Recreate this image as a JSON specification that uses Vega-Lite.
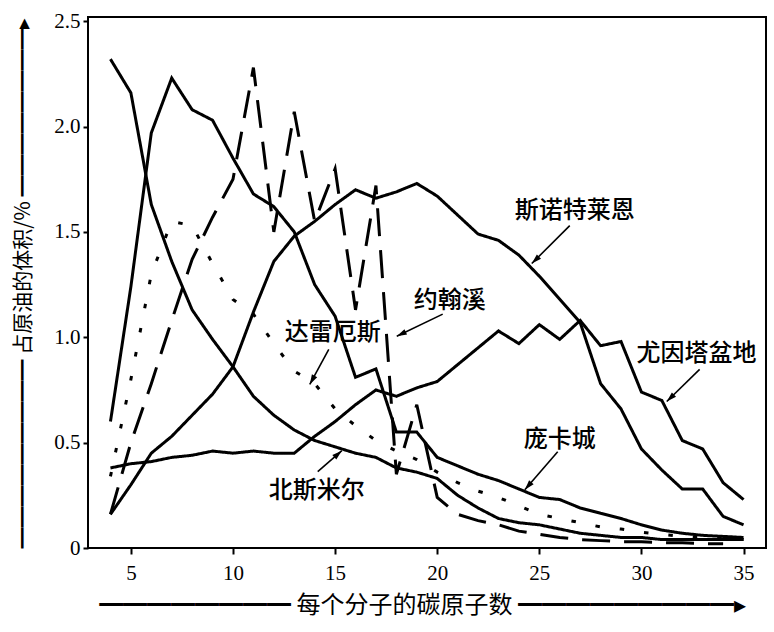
{
  "$schema": "https://vega.github.io/schema/vega-lite/v6.json",
  "width": 678,
  "height": 531,
  "autosize": {"type": "none"},
  "padding": {"left": 88, "top": 17, "right": 8, "bottom": 84},
  "background": "white",
  "config": {
    "view": {"stroke": "black", "strokeWidth": 2},
    "axis": {
      "domain": false, "grid": false, "tickColor": "black", "tickWidth": 2,
      "labelColor": "black", "labelFont": "DejaVu Serif",
      "titleFont": "Noto Sans CJK SC", "titleFontWeight": "normal", "titleColor": "black"
    }
  },
  "datasets": {
    "curves": [
      {"c":4,"ns":2.32,"pc":0.60,"sn":0.16,"ub":0.38,"da":0.34,"jc":0.16},
      {"c":5,"ns":2.16,"pc":1.24,"sn":0.30,"ub":0.40,"da":0.80,"jc":0.50},
      {"c":6,"ns":1.63,"pc":1.97,"sn":0.45,"ub":0.41,"da":1.30,"jc":0.78},
      {"c":7,"ns":1.36,"pc":2.23,"sn":0.53,"ub":0.43,"da":1.55,"jc":1.08},
      {"c":8,"ns":1.13,"pc":2.08,"sn":0.63,"ub":0.44,"da":1.53,"jc":1.37},
      {"c":9,"ns":0.99,"pc":2.03,"sn":0.73,"ub":0.46,"da":1.35,"jc":1.57},
      {"c":10,"ns":0.86,"pc":1.85,"sn":0.86,"ub":0.45,"da":1.18,"jc":1.75},
      {"c":11,"ns":0.72,"pc":1.68,"sn":1.12,"ub":0.46,"da":1.11,"jc":2.28},
      {"c":12,"ns":0.63,"pc":1.62,"sn":1.36,"ub":0.45,"da":0.97,"jc":1.50},
      {"c":13,"ns":0.56,"pc":1.50,"sn":1.48,"ub":0.45,"da":0.84,"jc":2.07},
      {"c":14,"ns":0.51,"pc":1.25,"sn":1.55,"ub":0.53,"da":0.78,"jc":1.55},
      {"c":15,"ns":0.48,"pc":1.10,"sn":1.63,"ub":0.60,"da":0.66,"jc":1.80},
      {"c":16,"ns":0.45,"pc":0.81,"sn":1.70,"ub":0.68,"da":0.58,"jc":1.13},
      {"c":17,"ns":0.43,"pc":0.85,"sn":1.66,"ub":0.75,"da":0.51,"jc":1.72},
      {"c":18,"ns":0.38,"pc":0.55,"sn":1.69,"ub":0.72,"da":0.46,"jc":0.35},
      {"c":19,"ns":0.36,"pc":0.55,"sn":1.73,"ub":0.76,"da":0.42,"jc":0.68},
      {"c":20,"ns":0.33,"pc":0.43,"sn":1.67,"ub":0.79,"da":0.36,"jc":0.24},
      {"c":21,"ns":0.25,"pc":0.39,"sn":1.58,"ub":0.87,"da":0.31,"jc":0.16},
      {"c":22,"ns":0.19,"pc":0.35,"sn":1.49,"ub":0.95,"da":0.27,"jc":0.13},
      {"c":23,"ns":0.14,"pc":0.32,"sn":1.46,"ub":1.03,"da":0.24,"jc":0.11},
      {"c":24,"ns":0.12,"pc":0.28,"sn":1.39,"ub":0.97,"da":0.20,"jc":0.08},
      {"c":25,"ns":0.11,"pc":0.24,"sn":1.29,"ub":1.06,"da":0.16,"jc":0.065},
      {"c":26,"ns":0.09,"pc":0.23,"sn":1.18,"ub":0.99,"da":0.14,"jc":0.05},
      {"c":27,"ns":0.07,"pc":0.19,"sn":1.07,"ub":1.08,"da":0.12,"jc":0.04},
      {"c":28,"ns":0.06,"pc":0.165,"sn":0.78,"ub":0.96,"da":0.10,"jc":0.035},
      {"c":29,"ns":0.05,"pc":0.14,"sn":0.66,"ub":0.98,"da":0.09,"jc":0.03},
      {"c":30,"ns":0.05,"pc":0.11,"sn":0.47,"ub":0.74,"da":0.075,"jc":0.03},
      {"c":31,"ns":0.04,"pc":0.085,"sn":0.37,"ub":0.70,"da":0.065,"jc":0.025},
      {"c":32,"ns":0.04,"pc":0.07,"sn":0.28,"ub":0.51,"da":0.055,"jc":0.025},
      {"c":33,"ns":0.04,"pc":0.06,"sn":0.28,"ub":0.47,"da":0.05,"jc":0.02},
      {"c":34,"ns":0.04,"pc":0.055,"sn":0.15,"ub":0.31,"da":0.045,"jc":0.02},
      {"c":35,"ns":0.04,"pc":0.05,"sn":0.11,"ub":0.23,"da":0.04}
    ],
    "notes": [
      {"label":"斯诺特莱恩","lx":26.73,"ly":1.60,"ax":26.49,"ay":1.53,"tx":24.63,"ty":1.35,"ang":226},
      {"label":"约翰溪","lx":20.61,"ly":1.17,"ax":20.27,"ay":1.11,"tx":18.02,"ty":1.005,"ang":244},
      {"label":"达雷厄斯","lx":14.89,"ly":1.02,"ax":14.69,"ay":0.943,"tx":13.76,"ty":0.776,"ang":208.5},
      {"label":"北斯米尔","lx":14.1,"ly":0.27,"ax":14.15,"ay":0.362,"tx":15.33,"ty":0.462,"ang":48.8},
      {"label":"庞卡城","lx":26.0,"ly":0.514,"ax":25.9,"ay":0.457,"tx":24.29,"ty":0.276,"ang":221},
      {"label":"尤因塔盆地","lx":32.7,"ly":0.92,"ax":32.85,"ay":0.848,"tx":31.24,"ty":0.695,"ang":226}
    ]
  },
  "resolve": {"scale": {"x": "shared", "y": "shared"}},
  "layer": [
    {
      "data": {"name": "curves"},
      "transform": [
        {"fold": ["ns", "pc", "sn", "ub", "da", "jc"], "as": ["oil", "v"]},
        {"filter": "isValid(datum.v)"}
      ],
      "mark": {"type": "line", "color": "black", "strokeWidth": 3, "strokeCap": "butt"},
      "encoding": {
        "x": {
          "field": "c", "type": "quantitative",
          "scale": {"domain": [2.9, 36.1], "nice": false, "zero": false},
          "axis": {
            "values": [5, 10, 15, 20, 25, 30, 35], "tickSize": 6, "labelPadding": 8,
            "labelFont": "Liberation Serif", "labelFontSize": 21,
            "title": "━━━━━━━━  每个分子的碳原子数  ━━━━━━━━━▸",
            "titleFontSize": 24, "titlePadding": 10, "titleX": 334
          }
        },
        "y": {
          "field": "v", "type": "quantitative",
          "scale": {"domain": [0, 2.52], "nice": false},
          "axis": {
            "values": [0, 0.5, 1, 1.5, 2, 2.5], "tickSize": 5, "labelPadding": 3,
            "labelFont": "Liberation Serif", "labelFontSize": 21,
            "labelExpr": "datum.value == 0 ? '0' : format(datum.value, '.1f')",
            "title": "━━━━━━━━━  占原油的体积/%  ━━━━━━━━▸",
            "titleFontSize": 21, "titlePadding": 20
          }
        },
        "strokeDash": {
          "field": "oil", "type": "nominal",
          "scale": {
            "domain": ["ns", "pc", "sn", "ub", "da", "jc"],
            "range": [[1, 0], [1, 0], [1, 0], [1, 0], [4.5, 20], [28, 14]]
          },
          "legend": null
        }
      }
    },
    {
      "data": {"name": "notes"},
      "mark": {"type": "rule", "color": "black", "strokeWidth": 1.6},
      "encoding": {
        "x": {"field": "ax", "type": "quantitative", "axis": {"labelFont": "Liberation Serif"}},
        "y": {"field": "ay", "type": "quantitative", "axis": {"labelFont": "Liberation Serif"}},
        "x2": {"field": "tx"},
        "y2": {"field": "ty"}
      }
    },
    {
      "data": {"name": "notes"},
      "mark": {"type": "point", "shape": "M0,0L0.6,2L-0.6,2Z", "filled": true, "color": "black", "opacity": 1, "size": 100},
      "encoding": {
        "x": {"field": "tx", "type": "quantitative", "axis": {"labelFont": "Liberation Serif"}},
        "y": {"field": "ty", "type": "quantitative", "axis": {"labelFont": "Liberation Serif"}},
        "angle": {"field": "ang", "type": "quantitative", "scale": null}
      }
    },
    {
      "data": {"name": "notes"},
      "mark": {"type": "text", "font": "Noto Sans CJK SC", "fontSize": 24, "fontWeight": 500, "color": "black", "align": "center", "baseline": "middle"},
      "encoding": {
        "x": {"field": "lx", "type": "quantitative", "axis": {"labelFont": "Liberation Serif"}},
        "y": {"field": "ly", "type": "quantitative", "axis": {"labelFont": "Liberation Serif"}},
        "text": {"field": "label"}
      }
    }
  ]
}
